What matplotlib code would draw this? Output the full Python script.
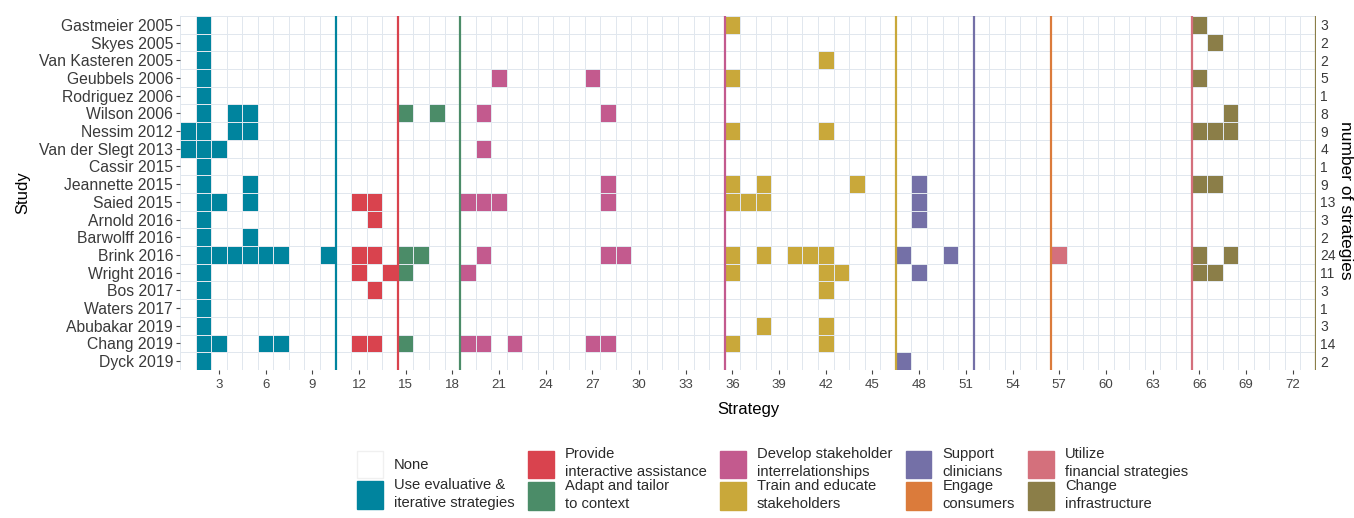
import numpy as np
import matplotlib.pyplot as plt
from matplotlib.colors import ListedColormap
from matplotlib.patches import Patch

plt.rcParams['font.family'] = ['Liberation Sans', 'DejaVu Sans']

# studies, top to bottom
studies = ['Gastmeier 2005', 'Skyes 2005', 'Van Kasteren 2005', 'Geubbels 2006',
           'Rodriguez 2006', 'Wilson 2006', 'Nessim 2012', 'Van der Slegt 2013',
           'Cassir 2015', 'Jeannette 2015', 'Saied 2015', 'Arnold 2016',
           'Barwolff 2016', 'Brink 2016', 'Wright 2016', 'Bos 2017',
           'Waters 2017', 'Abubakar 2019', 'Chang 2019', 'Dyck 2019']

# strategies (1..73) used by each study
used = [
    [2, 36, 66],
    [2, 67],
    [2, 42],
    [2, 21, 27, 36, 66],
    [2],
    [2, 4, 5, 15, 17, 20, 28, 68],
    [1, 2, 4, 5, 36, 42, 66, 67, 68],
    [1, 2, 3, 20],
    [2],
    [2, 5, 28, 36, 38, 44, 48, 66, 67],
    [2, 3, 5, 12, 13, 19, 20, 21, 28, 36, 37, 38, 48],
    [2, 13, 48],
    [2, 5],
    [2, 3, 4, 5, 6, 7, 10, 12, 13, 15, 16, 20, 28, 29, 36, 38, 40, 41, 42, 47, 50, 57, 66, 68],
    [2, 12, 14, 15, 19, 36, 42, 43, 48, 66, 67],
    [2, 13, 42],
    [2],
    [2, 38, 42],
    [2, 3, 6, 7, 12, 13, 15, 19, 20, 22, 27, 28, 36, 42],
    [2, 47],
]

# strategy groups: last strategy number in each group
group_names = ['Use evaluative &\niterative strategies', 'Provide\ninteractive assistance',
               'Adapt and tailor\nto context', 'Develop stakeholder\ninterrelationships',
               'Train and educate\nstakeholders', 'Support\nclinicians',
               'Engage\nconsumers', 'Utilize\nfinancial strategies', 'Change\ninfrastructure']
group_ends = [10, 14, 18, 35, 46, 51, 56, 65, 73]
group_colors = ['#00849e', '#d9434e', '#4b8c68', '#c35a8e', '#c9a83a',
                '#7470a7', '#db7b3b', '#d4707c', '#8b7e48']

n_strat = group_ends[-1]

def group_of(s):
    for g, end in enumerate(group_ends):
        if s <= end:
            return g
    return len(group_ends) - 1

grid = np.zeros((len(studies), n_strat))
for i, row in enumerate(used):
    for s in row:
        grid[i, s - 1] = group_of(s) + 1

counts = [len(r) for r in used]

fig = plt.figure(figsize=(13.54, 5.18), dpi=100)
ax = fig.add_axes([180 / 1354, 1 - 370 / 518, 1136 / 1354, 354 / 518])

cmap = ListedColormap(['white'] + group_colors)
ax.pcolormesh(np.arange(0.5, n_strat + 1), np.arange(-0.5, len(studies)), grid,
              cmap=cmap, vmin=-0.5, vmax=9.5, edgecolors='#e1e7ee', linewidth=0.6)

# group boundary lines
for end, col in zip(group_ends, group_colors):
    ax.axvline(end + 0.5, color=col, lw=1.6)

ax.set_xlim(0.5, n_strat + 0.5)
ax.set_ylim(len(studies) - 0.5, -0.5)
ax.set_xticks(np.arange(3, 73, 3))
ax.set_yticks(range(len(studies)))
ax.set_yticklabels(studies, fontsize=11.3, color='#3a3a3a')
ax.tick_params(axis='x', labelsize=9.5, labelcolor='#444444', length=3, color='#444444')
ax.tick_params(axis='y', length=3, color='#444444', pad=2)
for sp in ax.spines.values():
    sp.set_visible(False)
ax.set_xlabel('Strategy', fontsize=12, labelpad=8)
ax.set_ylabel('Study', fontsize=12, labelpad=6)

ax2 = ax.twinx()
ax2.set_ylim(ax.get_ylim())
ax2.set_yticks(range(len(studies)))
ax2.set_yticklabels(counts, fontsize=10, color='#3a3a3a')
ax2.tick_params(axis='y', length=0, pad=3)
for sp in ax2.spines.values():
    sp.set_visible(False)
fig.text(1345 / 1354, 1 - 200 / 518, 'number of strategies', fontsize=12.5,
         rotation=270, ha='center', va='center')

handles = [Patch(facecolor='white', edgecolor='#f0f0f0', label='None')]
for name, col in zip(group_names, group_colors):
    handles.append(Patch(facecolor=col, edgecolor=col, label=name))
leg = fig.legend(handles=handles, ncol=5, loc='upper left',
                 bbox_to_anchor=(350 / 1354, 1 - 440 / 518), frameon=False,
                 fontsize=10.6, handlelength=1.75, handleheight=2.5, labelspacing=0,
                 handletextpad=0.75, columnspacing=0.9, borderpad=0)
for t in leg.get_texts():
    t.set_linespacing(1.35)
    t.set_color('#2a2a2a')

fig.savefig('out.png', dpi=100)
